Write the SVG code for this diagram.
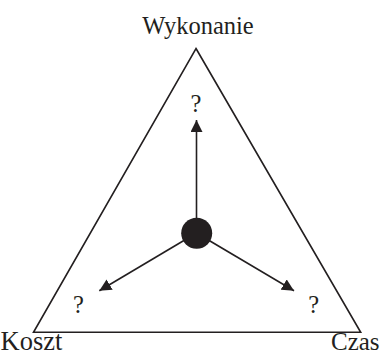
<svg xmlns="http://www.w3.org/2000/svg" width="381" height="356" viewBox="0 0 381 356">
<defs>
<style>
text{font-family:"Liberation Serif","Times New Roman",serif;font-size:24.5px;fill:#231f20}
.ln{stroke:#231f20;stroke-width:1.6;fill:none}
</style>
<marker id="ah" viewBox="0 0 12 12" refX="12" refY="6" markerWidth="12" markerHeight="12" markerUnits="userSpaceOnUse" orient="auto">
<path d="M0,0 L12,6 L0,12 Z" fill="#231f20"/>
</marker>
</defs>
<rect width="381" height="356" fill="#ffffff"/>
<g id="triangle">
<polygon class="ln" points="196,48.5 360.7,332.3 33.5,332.3" stroke-linejoin="miter"/>
</g>
<g id="labels">
<text x="198" y="33.5" text-anchor="middle">Wykonanie</text>
<text x="0.5" y="350" style="font-size:26.5px">Koszt</text>
<text x="331" y="350" style="font-size:25px">Czas</text>
</g>
<g id="questions">
<text x="196" y="111.5" text-anchor="middle">?</text>
<text x="78.5" y="313" text-anchor="middle">?</text>
<text x="313.7" y="313" text-anchor="middle">?</text>
</g>
<g id="connectors">
<line class="ln" x1="196.5" y1="233" x2="196.5" y2="120" marker-end="url(#ah)"/>
<line class="ln" x1="196.5" y1="233" x2="99.3" y2="290.7" marker-end="url(#ah)"/>
<line class="ln" x1="196.5" y1="233" x2="294" y2="290.7" marker-end="url(#ah)"/>
</g>
<g id="center">
<circle cx="196.7" cy="233.3" r="15.5" fill="#231f20"/>
</g>
</svg>
